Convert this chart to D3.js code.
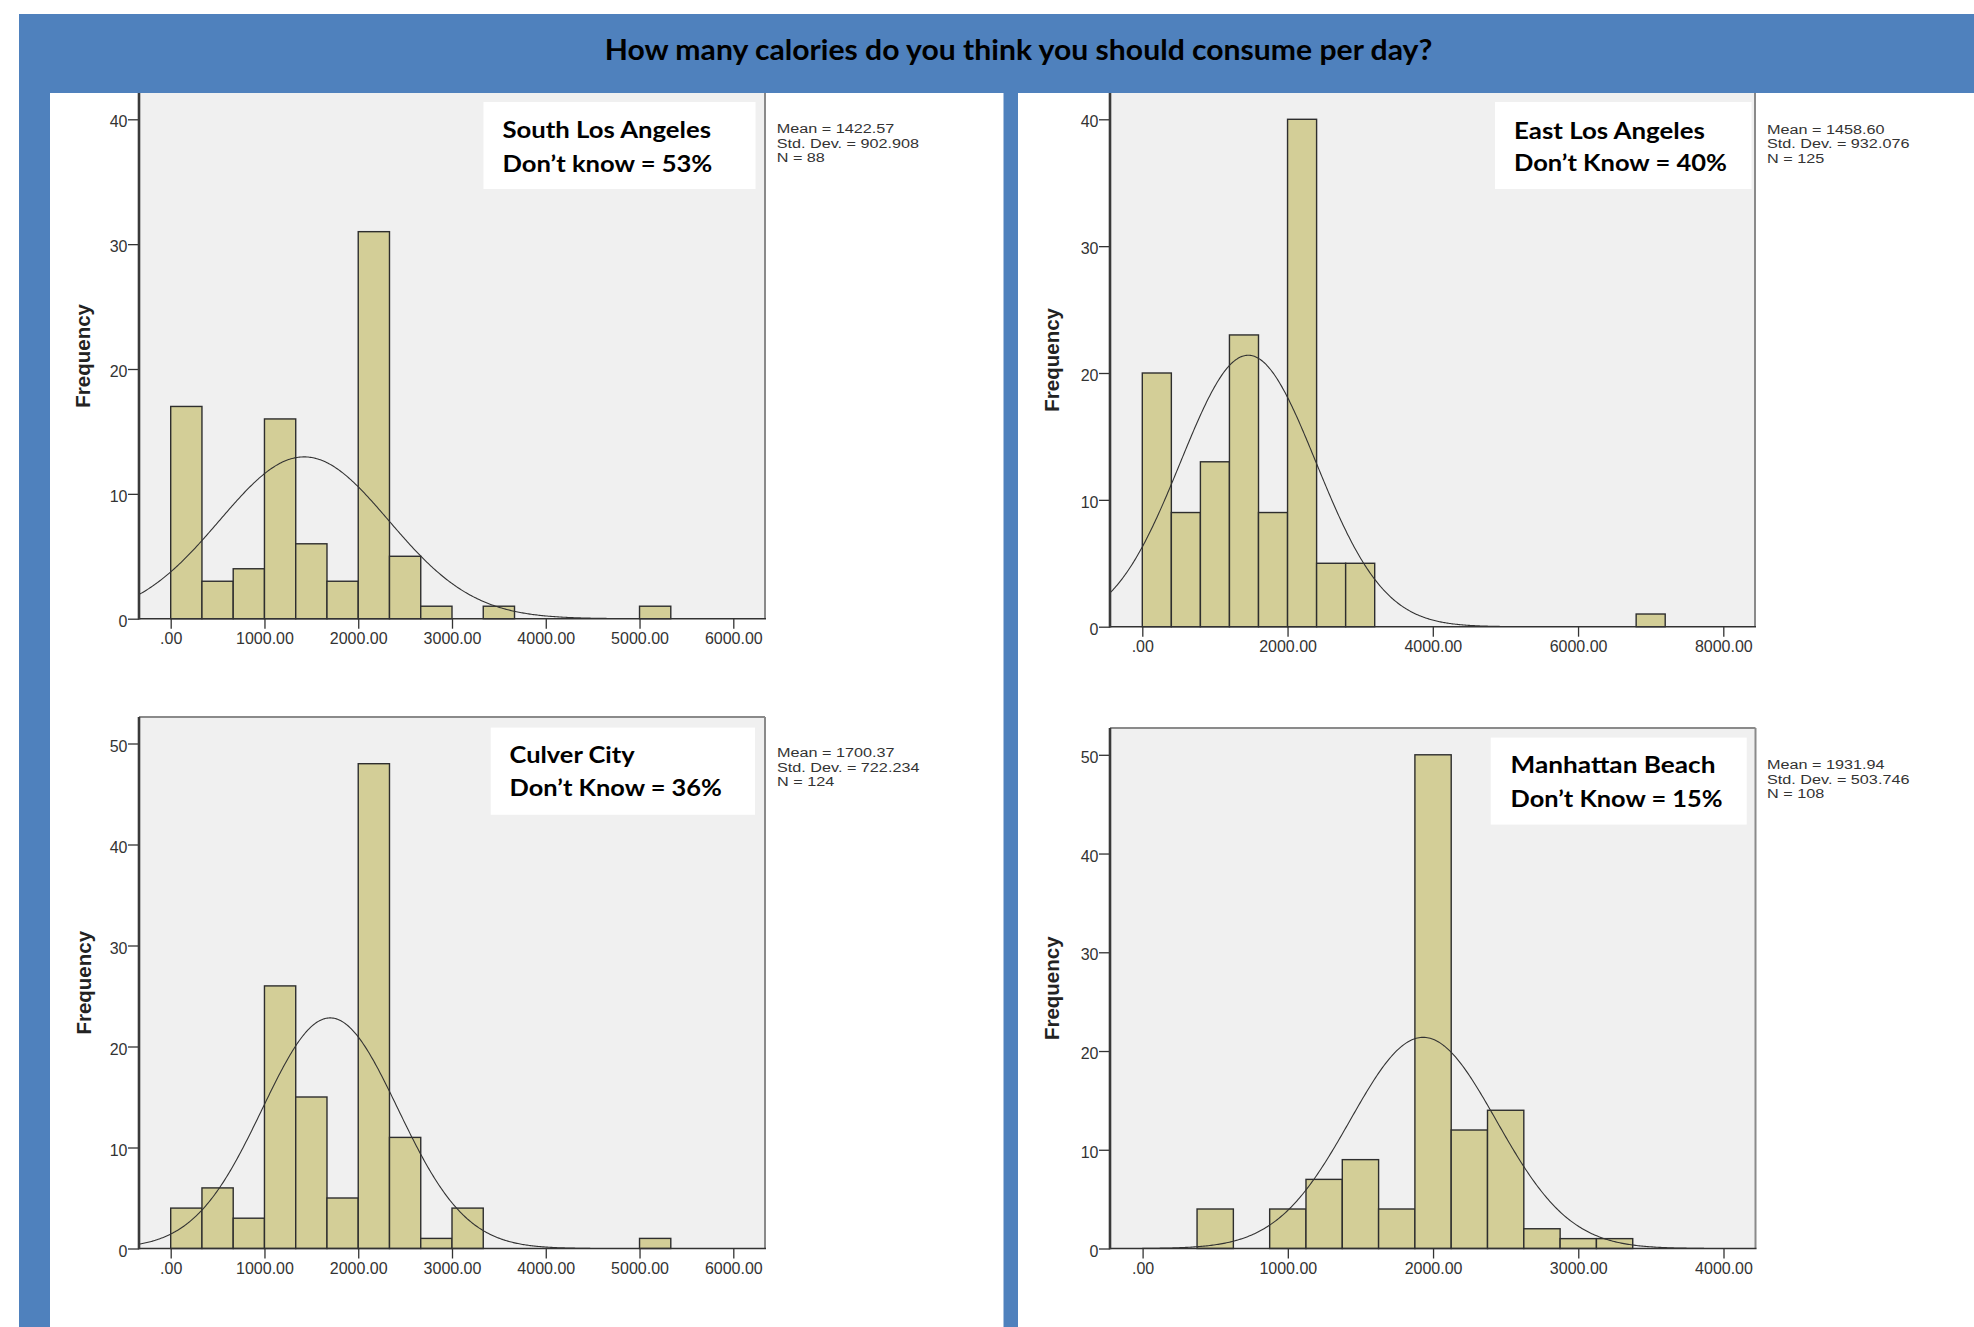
<!DOCTYPE html>
<html><head><meta charset="utf-8">
<script src="https://cdn.jsdelivr.net/npm/d3@7"></script>
<style>body{margin:0;background:#fff;} svg{display:block}</style>
</head><body>
<svg id="c" width="1974" height="1327"></svg>
<script>
// ---------------- DATA ----------------
const title = "How many calories do you think you should consume per day?";
const regions = ["South Los Angeles", "East Los Angeles", "Culver City", "Manhattan Beach"];
const dontKnow = ["Don’t know = 53%", "Don’t Know = 40%", "Don’t Know = 36%", "Don’t Know = 15%"];
const meanValues = [1422.57, 1458.60, 1700.37, 1931.94];
const sdValues = [902.908, 932.076, 722.234, 503.746];
const nValues = [88, 125, 124, 108];
const meanLabels = ["1422.57", "1458.60", "1700.37", "1931.94"];
const sdLabels = ["902.908", "932.076", "722.234", "503.746"];
const binStarts = [0, 0, 0, 375];
const binWidths = [1000 / 3, 400, 1000 / 3, 250];
const southLACounts = [17, 3, 4, 16, 6, 3, 31, 5, 1, 0, 1, 0, 0, 0, 0, 1];
const eastLACounts = [20, 9, 13, 23, 9, 40, 5, 5, 0, 0, 0, 0, 0, 0, 0, 0, 0, 1];
const culverCounts = [4, 6, 3, 26, 15, 5, 48, 11, 1, 4, 0, 0, 0, 0, 0, 1];
const manhattanCounts = [4, 0, 4, 7, 9, 4, 50, 12, 14, 2, 1, 1];
const counts = [southLACounts, eastLACounts, culverCounts, manhattanCounts];
const xTicks6000 = [0, 1000, 2000, 3000, 4000, 5000, 6000];
const xTickLabels6000 = [".00", "1000.00", "2000.00", "3000.00", "4000.00", "5000.00", "6000.00"];
const xTicks8000 = [0, 2000, 4000, 6000, 8000];
const xTickLabels8000 = [".00", "2000.00", "4000.00", "6000.00", "8000.00"];
const xTicks4000 = [0, 1000, 2000, 3000, 4000];
const xTickLabels4000 = [".00", "1000.00", "2000.00", "3000.00", "4000.00"];
const yTicks40 = [0, 10, 20, 30, 40];
const yTicks50 = [0, 10, 20, 30, 40, 50];
const yLabel = "Frequency";

// ---------------- LAYOUT ----------------
const panels = [
  { frame: {l: 139, r: 765, t: 93, b: 618.7}, topBorder: false,
    xd: [0, 6000], xr: [170.7, 733.3], yd: [0, 40], yr: [618.7, 119.3],
    xt: xTicks6000, xl: xTickLabels6000, yt: yTicks40,
    box: {x: 483.5, y: 102, w: 272, h: 87}, tx: 502.5, tb: [138.2, 172.1], tw: [208.6, 210],
    freqX: 90, stats: {x: 776.7, y: 133} },
  { frame: {l: 1110, r: 1755, t: 93, b: 626.7}, topBorder: false,
    xd: [0, 8000], xr: [1142.3, 1723.3], yd: [0, 40], yr: [626.7, 119.3],
    xt: xTicks8000, xl: xTickLabels8000, yt: yTicks40,
    box: {x: 1495, y: 102, w: 256.5, h: 87}, tx: 1514, tb: [138.8, 171.4], tw: [191, 213],
    freqX: 1059, stats: {x: 1767, y: 133.7} },
  { frame: {l: 139, r: 765, t: 717, b: 1248.5}, topBorder: true,
    xd: [0, 6000], xr: [170.7, 733.3], yd: [0, 50], yr: [1248.5, 743.5],
    xt: xTicks6000, xl: xTickLabels6000, yt: yTicks50,
    box: {x: 490.7, y: 727.6, w: 264.3, h: 87.2}, tx: 509.6, tb: [763, 796.4], tw: [125, 212.4],
    freqX: 90.5, stats: {x: 777, y: 757} },
  { frame: {l: 1110, r: 1755.5, t: 728, b: 1248.5}, topBorder: true,
    xd: [0, 4000], xr: [1142.6, 1723.5], yd: [0, 50], yr: [1248.5, 754.8],
    xt: xTicks4000, xl: xTickLabels4000, yt: yTicks50,
    box: {x: 1490.7, y: 737.6, w: 256, h: 87}, tx: 1510.6, tb: [773.2, 806.8], tw: [205, 212],
    freqX: 1059, stats: {x: 1767, y: 769} }
];

const svg = d3.select("#c");
const BLUE = "#4F81BD";
const BAR = "#D3CE97";
const LABELFONT = "Lato, 'Open Sans', sans-serif";
const AXISFONT = "'Liberation Sans', Arial, sans-serif";

svg.append("rect").attr("x", 0).attr("y", 0).attr("width", 1974).attr("height", 1327).attr("fill", "#fff");
svg.append("rect").attr("x", 19).attr("y", 14).attr("width", 1974 - 19).attr("height", 1327 - 14).attr("fill", BLUE);
svg.append("rect").attr("x", 50).attr("y", 93).attr("width", 1003.5 - 50).attr("height", 1327 - 93).attr("fill", "#fff");
svg.append("rect").attr("x", 1018).attr("y", 93).attr("width", 1974 - 1018).attr("height", 1327 - 93).attr("fill", "#fff");

function fitText(sel, x, y, targetW) {
  const w = sel.node().getComputedTextLength();
  const s = w > 0 ? targetW / w : 1;
  sel.attr("x", 0).attr("y", 0).attr("transform", `translate(${x},${y}) scale(${s},1)`);
}

const tt = svg.append("text").text(title)
  .attr("font-family", LABELFONT).attr("font-weight", 700).attr("font-size", 28)
  .attr("text-anchor", "middle").attr("fill", "#000");
fitText(tt, 1018.5, 60, 828);

panels.forEach((p, i) => {
  const f = p.frame;
  const g = svg.append("g");
  const x = d3.scaleLinear().domain(p.xd).range(p.xr);
  const y = d3.scaleLinear().domain(p.yd).range(p.yr);

  g.append("rect").attr("x", f.l).attr("y", f.t).attr("width", f.r - f.l).attr("height", f.b - f.t).attr("fill", "#F0F0F0");

  // label box
  g.append("rect").attr("x", p.box.x).attr("y", p.box.y).attr("width", p.box.w).attr("height", p.box.h).attr("fill", "#fff");
  [regions[i], dontKnow[i]].forEach((s, k) => {
    const t = g.append("text").text(s).attr("font-family", LABELFONT).attr("font-weight", 700)
      .attr("font-size", 23.5).attr("fill", "#000");
    fitText(t, p.tx, p.tb[k], p.tw[k]);
  });

  const clipId = "clip" + i;
  svg.append("clipPath").attr("id", clipId).append("rect")
    .attr("x", f.l).attr("y", f.t).attr("width", f.r - f.l).attr("height", f.b - f.t);

  // bars
  const bw = binWidths[i];
  const data = counts[i].map((c, k) => ({x0: binStarts[i] + k * bw, c})).filter(d => d.c > 0);
  g.append("g").selectAll("rect").data(data).join("rect")
    .attr("x", d => x(d.x0)).attr("width", d => x(d.x0 + bw) - x(d.x0))
    .attr("y", d => y(d.c)).attr("height", d => y(0) - y(d.c))
    .attr("fill", BAR).attr("stroke", "#2e2e2e").attr("stroke-width", 1.4);

  // normal curve from the stated mean / sd / N
  const m = meanValues[i], sd = sdValues[i], n = nValues[i];
  const lo = Math.max(m - 3.84 * sd, x.invert(f.l));
  const hi = Math.min(m + 3.84 * sd, x.invert(f.r));
  const pts = d3.range(0, 401).map(k => lo + (hi - lo) * k / 400);
  const dens = v => n * bw * Math.exp(-0.5 * ((v - m) / sd) ** 2) / (sd * Math.sqrt(2 * Math.PI));
  g.append("path").datum(pts).attr("clip-path", `url(#${clipId})`)
    .attr("d", d3.line().x(v => x(v)).y(v => y(dens(v))))
    .attr("fill", "none").attr("stroke", "#333").attr("stroke-width", 1.1);

  // axes
  const xa = g.append("g").attr("transform", `translate(0,${f.b})`)
    .call(d3.axisBottom(x).tickValues(p.xt).tickFormat((d, k) => p.xl[k]).tickSize(10).tickPadding(4).tickSizeOuter(0));
  const ya = g.append("g").attr("transform", `translate(${f.l},0)`)
    .call(d3.axisLeft(y).tickValues(p.yt).tickFormat(d3.format("d")).tickSize(11).tickPadding(0.5).tickSizeOuter(0));
  [xa, ya].forEach(a => {
    a.select(".domain").remove();
    a.selectAll("line").attr("stroke", "#333").attr("stroke-width", 1.3);
    a.selectAll("text").attr("font-family", AXISFONT).attr("font-size", 16).attr("fill", "#333");
  });
  ya.selectAll("text").attr("dy", "0.48em");

  // frame
  g.append("line").attr("x1", f.r).attr("x2", f.r).attr("y1", f.t).attr("y2", f.b)
    .attr("stroke", "#8a8a8a").attr("stroke-width", 2);
  if (p.topBorder) g.append("line").attr("x1", f.l).attr("x2", f.r).attr("y1", f.t).attr("y2", f.t)
    .attr("stroke", "#8a8a8a").attr("stroke-width", 2);
  g.append("line").attr("x1", f.l).attr("x2", f.r + 1).attr("y1", f.b).attr("y2", f.b)
    .attr("stroke", "#333").attr("stroke-width", 1.6);
  g.append("line").attr("x1", f.l).attr("x2", f.l).attr("y1", f.t).attr("y2", f.b + 0.8)
    .attr("stroke", "#3a3a3a").attr("stroke-width", 2.6);

  // y label
  g.append("text").text(yLabel).attr("font-family", AXISFONT).attr("font-weight", 700)
    .attr("font-size", 20.5).attr("fill", "#222").attr("text-anchor", "middle")
    .attr("transform", `translate(${p.freqX},${(f.t + f.b) / 2}) rotate(-90)`);

  // stats (SPSS-style horizontally stretched small text)
  ["Mean = " + meanLabels[i], "Std. Dev. = " + sdLabels[i], "N = " + nValues[i]].forEach((s, k) => {
    g.append("text").text(s).attr("font-family", AXISFONT).attr("font-size", 13.5).attr("fill", "#333")
      .attr("transform", `translate(${p.stats.x},${p.stats.y + k * 14.6}) scale(1.2,1)`);
  });
});
</script>
</body></html>
